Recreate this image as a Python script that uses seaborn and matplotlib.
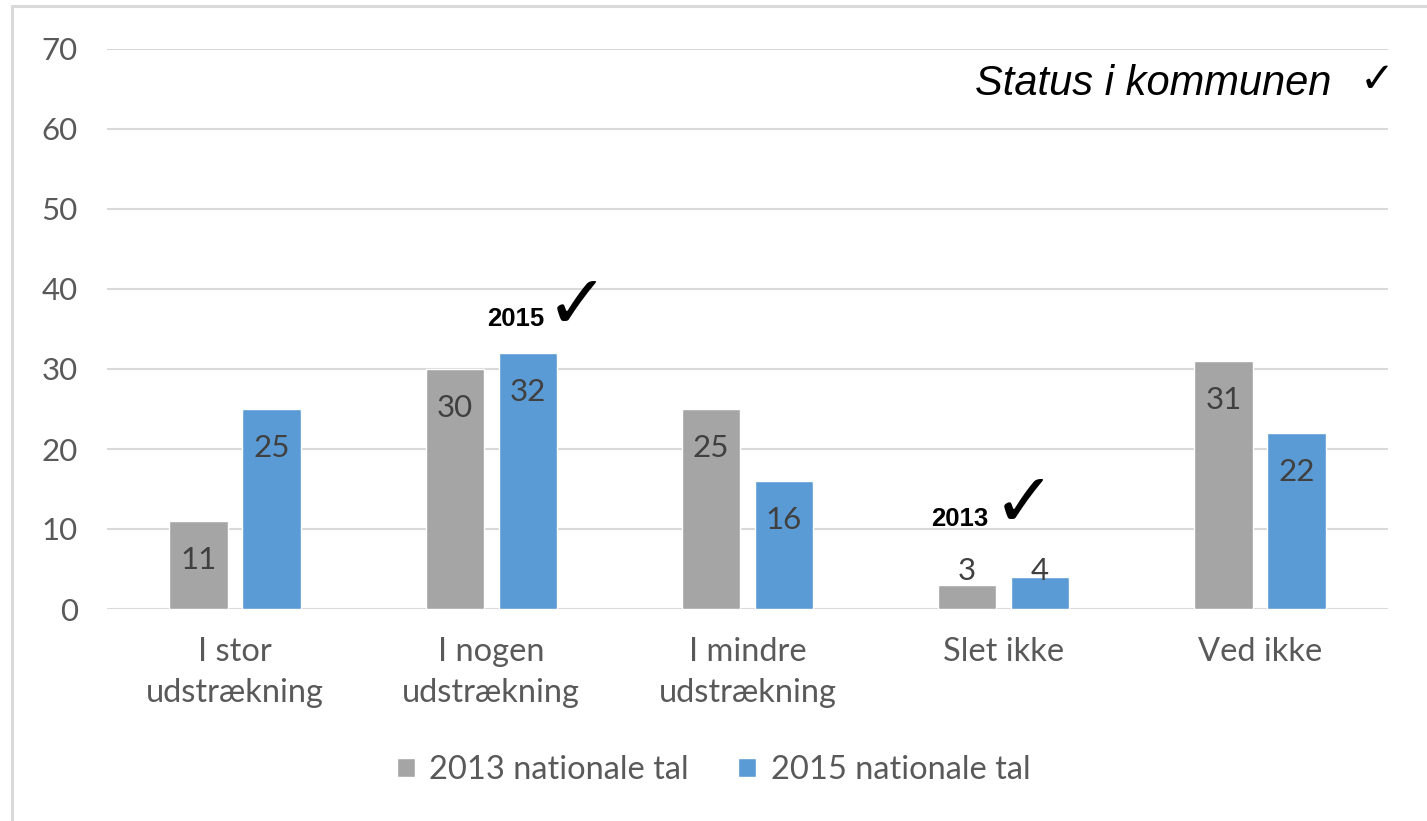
import matplotlib
matplotlib.use("Agg")
import matplotlib.pyplot as plt
import seaborn as sns
import pandas as pd
from matplotlib.lines import Line2D

categories = ["I stor\nudstrækning", "I nogen\nudstrækning", "I mindre\nudstrækning", "Slet ikke", "Ved ikke"]
series_names = ["2013 nationale tal", "2015 nationale tal"]
values_2013 = [11, 30, 25, 3, 31]
values_2015 = [25, 32, 16, 4, 22]
yticks = [0, 10, 20, 30, 40, 50, 60, 70]
colors = ["#a5a5a5", "#5b9bd5"]

df = pd.DataFrame({
    "cat": categories * 2,
    "series": [series_names[0]] * 5 + [series_names[1]] * 5,
    "value": values_2013 + values_2015,
})

sns.set_theme(style="white")
plt.rcParams["font.family"] = ["Lato", "DejaVu Sans"]

W, H = 1427, 821
fig = plt.figure(figsize=(W / 100, H / 100), dpi=100)
ax = fig.add_axes([107 / W, 1 - 609 / H, (1388 - 107) / W, (609 - 49) / H])

sns.barplot(data=df, x="cat", y="value", hue="series", palette=colors,
            width=0.57, gap=0.2, ax=ax, saturation=1, errorbar=None,
            order=categories, hue_order=series_names, zorder=3)

ax.set_ylim(0, 70)
ax.set_xlim(-0.5, len(categories) - 0.5)
ax.set_yticks(yticks)
ax.yaxis.grid(True, color="#d9d9d9", linewidth=1.5, zorder=0)
ax.set_axisbelow(True)
for s in ax.spines.values():
    s.set_visible(False)
ax.set_xlabel("")
ax.set_ylabel("")
ax.tick_params(axis="y", length=0, pad=21, labelsize=22.5, labelcolor="#595959")
ax.tick_params(axis="x", length=0, pad=20, labelsize=23.5, labelcolor="#595959")
for lbl in ax.get_xticklabels():
    lbl.set_linespacing(1.45)

# data labels
for cont in ax.containers:
    for bar in cont:
        v = bar.get_height()
        ypos = max(v - 4.85, 4.75)
        ax.text(bar.get_x() + bar.get_width() / 2, ypos, f"{int(round(v))}",
                ha="center", va="center", fontsize=22.5, color="#404040", zorder=5)

# legend
handles, labels = ax.get_legend_handles_labels()
ax.get_legend().remove()
fig.legend(handles, labels, loc="center", bbox_to_anchor=(0.5, 1 - 770 / H), ncol=2,
           frameon=False, fontsize=23.5, labelcolor="#595959", handlelength=0.55,
           handleheight=0.55, handletextpad=0.45, columnspacing=1.5)

# annotations
def ftxt(x, y, s, **kw):
    fig.text(x / W, 1 - y / H, s, **kw)

ftxt(975, 95, "Status i kommunen", ha="left", va="baseline", fontsize=30,
     style="italic", family=["Liberation Sans", "DejaVu Sans"], color="black")
ftxt(1360, 92, "\u2713", ha="left", va="baseline", fontsize=30,
     family=["DejaVu Sans"], color="black")
ftxt(487, 326, "2015", ha="left", va="baseline", fontsize=18.5, fontweight="bold",
     family=["Liberation Sans", "DejaVu Sans"], color="black")
ftxt(546, 327, "\u2713", ha="left", va="baseline", fontsize=54,
     family=["DejaVu Sans"], color="black")
ftxt(931, 526, "2013", ha="left", va="baseline", fontsize=18.5, fontweight="bold",
     family=["Liberation Sans", "DejaVu Sans"], color="black")
ftxt(993, 525, "\u2713", ha="left", va="baseline", fontsize=54,
     family=["DejaVu Sans"], color="black")

# outer border (top and left)
fig.add_artist(Line2D([11.5 / W, 1], [1 - 6.5 / H, 1 - 6.5 / H], transform=fig.transFigure,
                      color="#d9d9d9", linewidth=2.2))
fig.add_artist(Line2D([11.5 / W, 11.5 / W], [0, 1 - 6.5 / H], transform=fig.transFigure,
                      color="#d9d9d9", linewidth=2.2))

fig.savefig("out.png", dpi=100, facecolor="white")
